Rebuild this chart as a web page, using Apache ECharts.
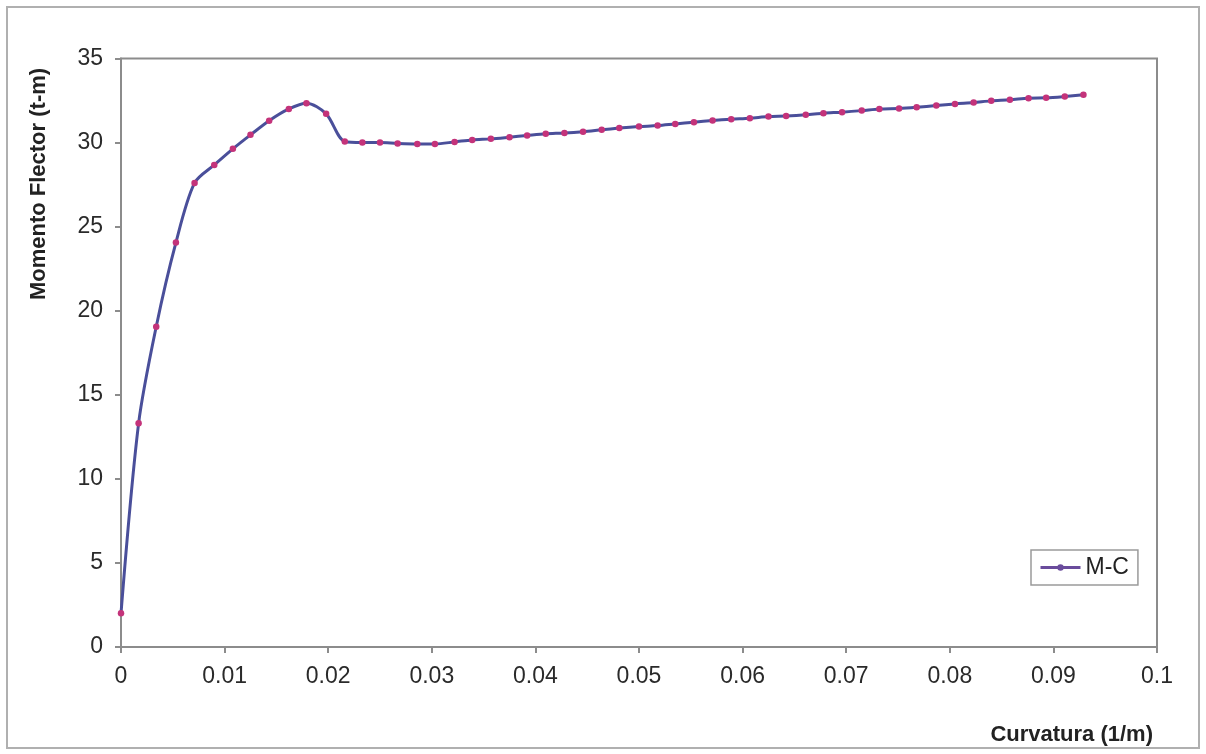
<!DOCTYPE html>
<html>
<head>
<meta charset="utf-8">
<script src="https://cdn.jsdelivr.net/npm/echarts@6/dist/echarts.min.js"></script>
<style>
html,body{margin:0;padding:0;background:#fff;}
#c{width:1206px;height:754px;}
</style>
</head>
<body>
<div id="c"></div>
<script>
var seriesName = 'M-C';
var xTitle = 'Curvatura (1/m)';
var yTitle = 'Momento Flector (t-m)';
var curvatura = [0, 0.0017, 0.0034, 0.0053, 0.0071, 0.0090, 0.0108, 0.0125, 0.0143, 0.0162, 0.0179, 0.0198, 0.0216, 0.0233, 0.0250, 0.0267, 0.0286, 0.0303, 0.0322, 0.0339, 0.0357, 0.0375, 0.0392, 0.0410, 0.0428, 0.0446, 0.0464, 0.0481, 0.0500, 0.0518, 0.0535, 0.0553, 0.0571, 0.0589, 0.0607, 0.0625, 0.0642, 0.0661, 0.0678, 0.0696, 0.0715, 0.0732, 0.0751, 0.0768, 0.0787, 0.0805, 0.0823, 0.0840, 0.0858, 0.0876, 0.0893, 0.0911, 0.0929];
var momento = [2.0, 13.3, 19.05, 24.05, 27.6, 28.67, 29.63, 30.46, 31.3, 32.0, 32.34, 31.71, 30.06, 30.0, 30.0, 29.95, 29.92, 29.92, 30.04, 30.16, 30.22, 30.32, 30.42, 30.52, 30.57, 30.65, 30.76, 30.86, 30.95, 31.01, 31.11, 31.21, 31.31, 31.39, 31.45, 31.55, 31.58, 31.65, 31.75, 31.81, 31.90, 32.0, 32.03, 32.1, 32.2, 32.3, 32.38, 32.48, 32.54, 32.64, 32.66, 32.74, 32.84];

var pts = curvatura.map(function (x, i) { return [x, momento[i]]; });
var chart = echarts.init(document.getElementById('c'));
var font = 'Liberation Sans, Arial, sans-serif';
chart.setOption({
  animation: false,
  backgroundColor: '#fff',
  textStyle: {fontFamily: font},
  grid: {left: 121, right: 49, top: 58.5, bottom: 107, show: true, borderColor: '#8c8c8c', borderWidth: 2, backgroundColor: '#fff'},
  xAxis: {
    type: 'value', min: 0, max: 0.1, interval: 0.01,
    axisLine: {show: true, lineStyle: {color: '#8c8c8c', width: 2}},
    axisTick: {show: true, length: 6, lineStyle: {color: '#8c8c8c', width: 2}},
    splitLine: {show: false},
    axisLabel: {fontSize: 23, color: '#2a2a2a', margin: 18, fontFamily: font,
      formatter: function (v) { return String(+v.toFixed(2)); }}
  },
  yAxis: {
    type: 'value', min: 0, max: 35, interval: 5,
    axisLine: {show: true, lineStyle: {color: '#8c8c8c', width: 2}},
    axisTick: {show: true, length: 6, lineStyle: {color: '#8c8c8c', width: 2}},
    splitLine: {show: false},
    axisLabel: {fontSize: 23, color: '#2a2a2a', margin: 18, fontFamily: font}
  },
  legend: {
    left: 1031, top: 550, orient: 'vertical',
    borderColor: '#9a9a9a', borderWidth: 1.5, borderRadius: 0,
    padding: [6, 9, 6, 8], itemWidth: 40, itemHeight: 8, itemGap: 6,
    textStyle: {fontSize: 23, color: '#222', fontFamily: font},
    data: [{name: seriesName, itemStyle: {color: '#6a4c9c'}, lineStyle: {color: '#6a4c9c', width: 3}}]
  },
  series: [{
    name: seriesName, type: 'line', data: pts, smooth: 0.3,
    symbol: 'circle', symbolSize: 6.5, showSymbol: true,
    lineStyle: {color: '#4a4f9a', width: 3},
    itemStyle: {color: '#c4337a', borderWidth: 0}
  }],
  graphic: [
    {type: 'rect', shape: {x: 7, y: 7, width: 1192, height: 741}, style: {fill: 'none', stroke: '#b0b0b0', lineWidth: 2}, silent: true},
    {type: 'text', x: 39, y: 184, rotation: Math.PI / 2,
      style: {text: yTitle, fontSize: 22, fontWeight: 'bold', fill: '#222', font: 'bold 22px ' + font, align: 'center', verticalAlign: 'middle'}},
    {type: 'text', x: 1153, y: 735,
      style: {text: xTitle, fontSize: 22, fontWeight: 'bold', fill: '#222', font: 'bold 22px ' + font, align: 'right', verticalAlign: 'middle'}}
  ]
});
</script>
</body>
</html>
